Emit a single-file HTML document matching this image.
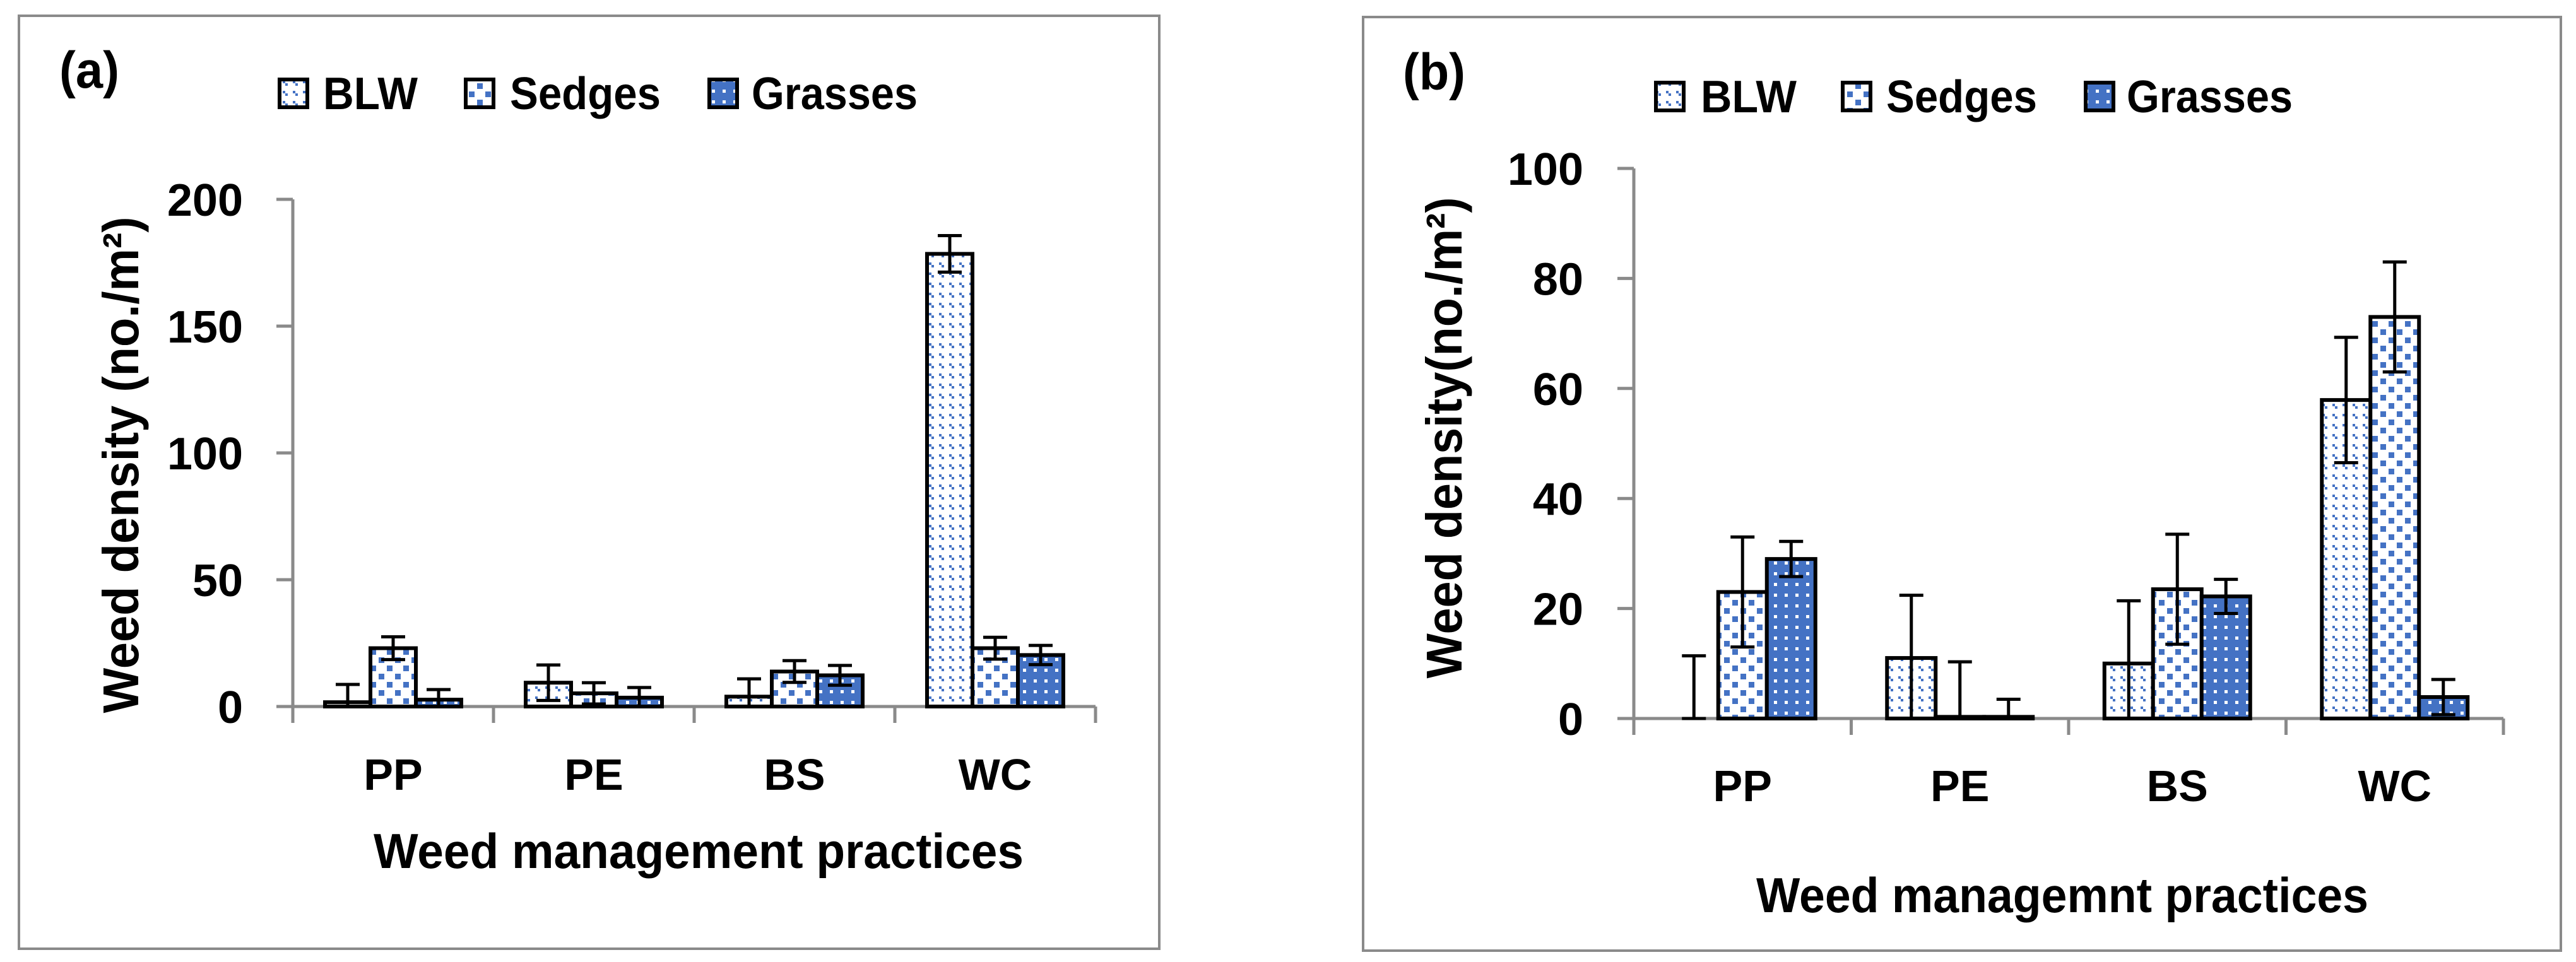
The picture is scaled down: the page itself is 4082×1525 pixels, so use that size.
<!DOCTYPE html>
<html><head><meta charset="utf-8"><title>Weed density charts</title>
<style>
html,body{margin:0;padding:0;background:#fff;}
svg{display:block;}
text{font-family:"Liberation Sans",Arial,sans-serif;font-weight:bold;fill:#000;}
</style></head>
<body>
<svg id="fig" width="4082" height="1525" viewBox="0 0 4082 1525" xmlns="http://www.w3.org/2000/svg">
<defs>
<pattern id="pBLW" width="16" height="16" patternUnits="userSpaceOnUse">
<rect width="16" height="16" fill="#fff"/>
<rect x="0" y="0" width="4" height="4" fill="#4472C4"/>
<rect x="4" y="4" width="4" height="4" fill="#4472C4"/>
</pattern>
<pattern id="pSED" width="26" height="26" patternUnits="userSpaceOnUse">
<rect width="26" height="26" fill="#fff"/>
<rect x="2" y="2" width="9" height="9" fill="#4472C4"/>
<rect x="15" y="15" width="9" height="9" fill="#4472C4"/>
</pattern>
<pattern id="pGRA" width="17" height="17" patternUnits="userSpaceOnUse">
<rect width="17" height="17" fill="#4472C4"/>
<rect x="6" y="6" width="5" height="5" fill="#fff"/>
</pattern>
</defs>
</svg>
<script>
// Shared data
const categories = ["PP", "PE", "BS", "WC"];
const seriesNames = ["BLW", "Sedges", "Grasses"];
// Panel (a)
const aBLW = [1.7, 9.4, 3.9, 178.5];
const aSedges = [23, 5.2, 13.8, 23];
const aGrasses = [2.7, 3.5, 12.3, 20.3];
const aErrBLW = [7, 7, 7, 7.2];
const aErrSedges = [4.5, 4.2, 4.3, 4.3];
const aErrGrasses = [4, 4, 3.9, 3.8];
const aTicks = [0, 50, 100, 150, 200];
// Panel (b)
const bBLW = [0, 11, 10, 57.9];
const bSedges = [23, 0.3, 23.5, 73];
const bGrasses = [29, 0.3, 22.2, 3.9];
const bErrBLW = [11.4, 11.4, 11.4, 11.4];
const bErrSedges = [10, 10, 10, 10];
const bErrGrasses = [3.2, 3.2, 3.1, 3.2];
const bTicks = [0, 20, 40, 60, 80, 100];

const NS = "http://www.w3.org/2000/svg";
const svg = document.getElementById("fig");
function mk(tag, attrs, parent) {
  const e = document.createElementNS(NS, tag);
  for (const k in attrs) e.setAttribute(k, attrs[k]);
  (parent || svg).appendChild(e);
  return e;
}
const fills = ["url(#pBLW)", "url(#pSED)", "url(#pGRA)"];

function panel(cfg) {
  const g = mk("g", {});
  
  
  const b = mk("rect", {x: cfg.box[0], y: cfg.box[1], width: cfg.box[2]-cfg.box[0], height: cfg.box[3]-cfg.box[1], fill: "none", stroke: "#8a8a8a", "stroke-width": 4}, g);
  
  
  const lb = mk("text", {x: cfg.lab[0], y: cfg.lab[1], "font-size": 82, textLength: cfg.lab[2], lengthAdjust: "spacingAndGlyphs"}, g);
  lb.textContent = "(" + cfg.id + ")";
  
  
  for (let i = 0; i < 3; i++) {
    const L = cfg.legend[i];
    const lg = mk("g", {}, g);
    
    
    mk("rect", {x: L[0]+3, y: cfg.legY+3, width: 44, height: 44, fill: fills[i], stroke: "#000", "stroke-width": 6}, lg);
    const t = mk("text", {x: L[1], y: cfg.legY + 50, "font-size": 72, textLength: L[2], lengthAdjust: "spacingAndGlyphs"}, lg);
    t.textContent = seriesNames[i];
  }
  const x0 = cfg.axX, y0 = cfg.zeroY, catW = cfg.catW;
  const yPx = v => y0 - v * cfg.pxPer;
  const ticks = cfg.ticks;
  const axis = mk("line", {x1: x0, y1: yPx(ticks[ticks.length-1]), x2: x0, y2: y0 + 26, stroke: "#8a8a8a", "stroke-width": 5}, g);
  
  
  ticks.forEach(t => {
    mk("line", {x1: x0 - 26, y1: yPx(t), x2: x0, y2: yPx(t), stroke: "#8a8a8a", "stroke-width": 5}, g);
    const tl = mk("text", {x: cfg.tickRight, y: yPx(t) + 26, "font-size": 72, "text-anchor": "end"}, g);
    tl.textContent = t;
    
    
  });
  const xa = mk("line", {x1: x0 - 26, y1: y0, x2: x0 + catW * categories.length, y2: y0, stroke: "#8a8a8a", "stroke-width": 5}, g);
  
  
  for (let i = 1; i <= categories.length; i++) {
    mk("line", {x1: x0 + catW*i, y1: y0, x2: x0 + catW*i, y2: y0 + 26, stroke: "#8a8a8a", "stroke-width": 5}, g);
  }
  const data = [cfg.s0, cfg.s1, cfg.s2];
  const errs = [cfg.e0, cfg.e1, cfg.e2];
  const bw = cfg.barW;
  categories.forEach((c, ci) => {
    const cx = x0 + catW * (ci + 0.5);
    const gl = mk("text", {x: cx, y: cfg.catLabY, "font-size": 70, "text-anchor": "middle"}, g);
    gl.textContent = c;
    
    
    for (let s = 0; s < 3; s++) {
      const v = data[s][ci];
      const bx = cx - 1.5*bw + s*bw;
      const top = yPx(v);
      const r = mk("rect", {x: bx, y: top, width: bw, height: Math.max(0, y0 - top), fill: fills[s], stroke: "#000", "stroke-width": 6}, g);
      
      
      const e = errs[s][ci];
      const ex = bx + bw/2;
      const lo = Math.max(0, v - e), hi = v + e;
      const eg = mk("g", {stroke: "#000", "stroke-width": 5}, g);
      
      
      mk("line", {x1: ex, y1: yPx(lo), x2: ex, y2: yPx(hi)}, eg);
      mk("line", {x1: ex - 19, y1: yPx(hi), x2: ex + 19, y2: yPx(hi)}, eg);
      mk("line", {x1: ex - 19, y1: yPx(lo), x2: ex + 19, y2: yPx(lo)}, eg);
    }
  });
  const xt = mk("text", {x: cfg.xTitle[0], y: cfg.xTitle[1], "font-size": 78, textLength: cfg.xTitle[2], lengthAdjust: "spacingAndGlyphs"}, g);
  xt.setAttribute("xml:space", "preserve");
  xt.textContent = cfg.xTitleText;
  
  
  const yt = mk("text", {x: 0, y: 0, "font-size": 80, "text-anchor": "middle", textLength: cfg.yTitle[3], lengthAdjust: "spacingAndGlyphs", transform: `translate(${cfg.yTitle[0]},${cfg.yTitle[1]}) rotate(-90)`}, g);
  yt.textContent = cfg.yTitleText;
  
  
}

panel({id: "a", box: [30, 25, 1837, 1504], lab: [94, 139, 95], legY: 123,
  legend: [[440, 512, 150], [735, 808, 239], [1121, 1191, 263]],
  axX: 464, zeroY: 1120, catW: 318, pxPer: 4.02, ticks: aTicks, tickRight: 385,
  barW: 72, catLabY: 1252, s0: aBLW, s1: aSedges, s2: aGrasses, e0: aErrBLW, e1: aErrSedges, e2: aErrGrasses,
  xTitle: [592, 1376, 1030], xTitleText: "Weed  management practices",
  yTitle: [219, 737, 0, 787], yTitleText: "Weed density (no./m²)"});

panel({id: "b", box: [2160, 27, 4058, 1507], lab: [2223, 142, 99], legY: 128,
  legend: [[2621, 2695, 152], [2917, 2989, 239], [3302, 3370, 263]],
  axX: 2589, zeroY: 1139, catW: 344.5, pxPer: 8.72, ticks: bTicks, tickRight: 2509,
  barW: 77, catLabY: 1270, s0: bBLW, s1: bSedges, s2: bGrasses, e0: bErrBLW, e1: bErrSedges, e2: bErrGrasses,
  xTitle: [2783, 1446, 970], xTitleText: "Weed managemnt practices",
  yTitle: [2316, 694, 0, 763], yTitleText: "Weed density(no./m²)"});
</script>
</body></html>
